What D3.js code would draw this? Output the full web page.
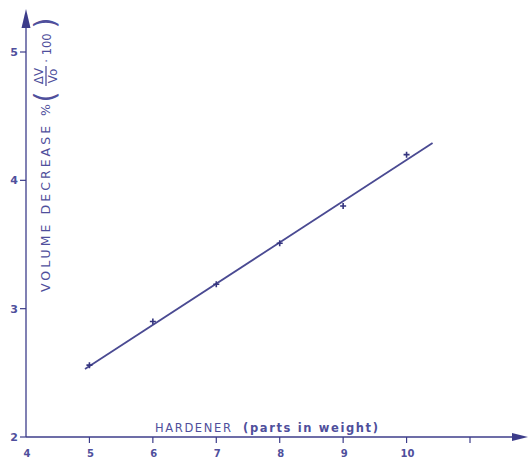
<!DOCTYPE html>
<html>
<head>
<meta charset="utf-8">
<script src="https://cdn.jsdelivr.net/npm/d3@7"></script>
<style>
  body { margin: 0; background: #fff; }
  svg { display: block; }
</style>
</head>
<body>
<div id="chart"></div>
<script>
// measured points (hardener parts vs volume decrease %)
const hardener = [5, 6, 7, 8, 9, 10];
const volumeDecrease = [2.56, 2.90, 3.19, 3.51, 3.80, 4.20];
// hand-drawn fit line end points
const fitX = [4.93, 10.41];
const fitY = [2.53, 4.29];
const xTicks = [4, 5, 6, 7, 8, 9, 10, 11];
const xTickLabels = ["4", "5", "6", "7", "8", "9", "10", ""];
const yTicks = [2, 3, 4, 5];

const W = 530, H = 459;
const ink = "#3c3c8a";
const textInk = "#4f4f9c";

const svg = d3.select("#chart").append("svg")
    .attr("width", W)
    .attr("height", H);

const x = d3.scaleLinear().domain([4, 11]).range([26, 470]);
const y = d3.scaleLinear().domain([2, 5]).range([437, 52]);

// x axis
svg.append("line")
    .attr("x1", x(4)).attr("x2", 515)
    .attr("y1", y(2)).attr("y2", y(2))
    .attr("stroke", ink).attr("stroke-width", 1.3);
svg.append("path")
    .attr("d", `M528,${y(2)} L512,${y(2) - 4} L512,${y(2) + 4} Z`)
    .attr("fill", ink);

svg.selectAll(".xtick")
    .data(xTicks.slice(1))
    .join("line")
    .attr("class", "xtick")
    .attr("x1", d => x(d)).attr("x2", d => x(d))
    .attr("y1", y(2)).attr("y2", y(2) + 6)
    .attr("stroke", ink).attr("stroke-width", 1.2);

svg.selectAll(".xlab")
    .data(xTicks)
    .join("text")
    .attr("class", "xlab")
    .attr("x", d => x(d) + 1)
    .attr("y", 457)
    .attr("text-anchor", "middle")
    .attr("font-family", "DejaVu Sans")
    .attr("font-size", 10)
    .attr("font-weight", "bold")
    .attr("fill", textInk)
    .text((d, i) => xTickLabels[i]);

// y axis
svg.append("line")
    .attr("x1", x(4)).attr("x2", x(4))
    .attr("y1", y(2)).attr("y2", 24)
    .attr("stroke", ink).attr("stroke-width", 1.3);
svg.append("path")
    .attr("d", `M${x(4)},9 L${x(4) - 4.5},28 L${x(4) + 4.5},28 Z`)
    .attr("fill", ink);

svg.selectAll(".ytick")
    .data(yTicks)
    .join("line")
    .attr("class", "ytick")
    .attr("x1", x(4) - 6).attr("x2", x(4))
    .attr("y1", d => y(d)).attr("y2", d => y(d))
    .attr("stroke", ink).attr("stroke-width", 1.2);

svg.selectAll(".ylab")
    .data(yTicks)
    .join("text")
    .attr("class", "ylab")
    .attr("x", 18)
    .attr("y", d => y(d) + 4)
    .attr("text-anchor", "end")
    .attr("font-family", "DejaVu Sans")
    .attr("font-size", 11)
    .attr("font-weight", "bold")
    .attr("fill", textInk)
    .text(d => d);

// x axis title
svg.append("text")
    .attr("x", 155)
    .attr("y", 432)
    .attr("font-family", "DejaVu Sans")
    .attr("font-size", 11.5)
    .attr("fill", textInk)
    .attr("textLength", 223)
    .attr("lengthAdjust", "spacing")
    .html('HARDENER&#160;&#160;<tspan font-weight="bold">(parts in weight)</tspan>');

// y axis title
svg.append("text")
    .attr("transform", "translate(50,292) rotate(-90)")
    .attr("font-family", "DejaVu Sans")
    .attr("font-size", 12.5)
    .attr("fill", textInk)
    .attr("textLength", 188)
    .attr("lengthAdjust", "spacing")
    .text("VOLUME  DECREASE %");

// (ΔV/Vo · 100)
const frac = svg.append("g")
    .attr("transform", "translate(46,60) rotate(-90)")
    .attr("font-family", "DejaVu Sans")
    .attr("fill", textInk);
frac.append("text").attr("x", -37).attr("y", 9)
    .attr("font-size", 28).attr("text-anchor", "middle").text("(");
frac.append("text").attr("x", 37).attr("y", 9)
    .attr("font-size", 28).attr("text-anchor", "middle").text(")");
frac.append("text").attr("x", -16).attr("y", -3)
    .attr("font-size", 12).attr("text-anchor", "middle").text("ΔV");
frac.append("line").attr("x1", -26).attr("x2", -6).attr("y1", 0).attr("y2", 0)
    .attr("stroke", textInk).attr("stroke-width", 1.3);
frac.append("text").attr("x", -16).attr("y", 11)
    .attr("font-size", 12).attr("text-anchor", "middle").text("Vo");
frac.append("text").attr("x", 12).attr("y", 4.5)
    .attr("font-size", 11.5).attr("text-anchor", "middle").text("· 100");

// fit line
svg.append("line")
    .attr("x1", x(fitX[0])).attr("y1", y(fitY[0]))
    .attr("x2", x(fitX[1])).attr("y2", y(fitY[1]))
    .attr("stroke", "#4a4a92").attr("stroke-width", 1.8);

// data markers
const pts = hardener.map((h, i) => ({x: h, y: volumeDecrease[i]}));
svg.append("g")
    .selectAll("path")
    .data(pts)
    .join("path")
    .attr("d", d => {
        const cx = x(d.x), cy = y(d.y);
        return `M${cx - 3},${cy} L${cx + 3},${cy} M${cx},${cy - 3} L${cx},${cy + 3}`;
    })
    .attr("stroke", "#35357f")
    .attr("stroke-width", 1.6);
</script>
</body>
</html>
